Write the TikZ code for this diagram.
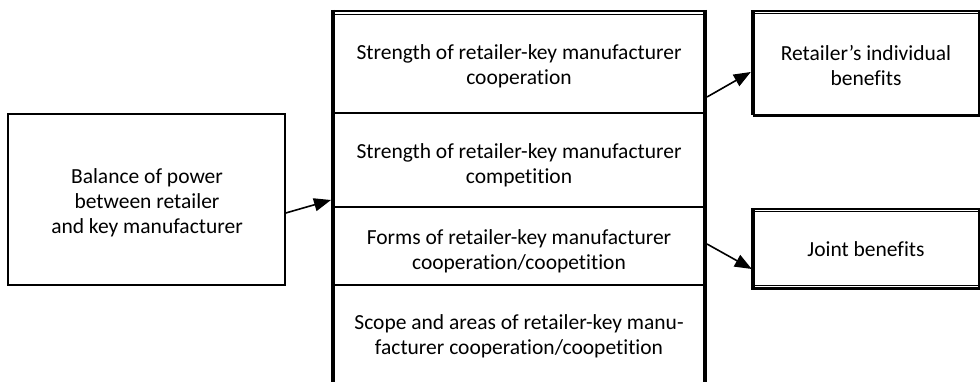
\documentclass[tikz,border=0pt]{standalone}
\usepackage{fontspec}
\setmainfont{Carlito}[RawFeature={-liga}]
\usetikzlibrary{arrows.meta}
\begin{document}
\begin{tikzpicture}[x=1pt,y=-1pt,
  txt/.style={align=center,inner sep=0pt,font=\fontsize{21.5}{25}\selectfont},
  arr/.style={line width=1.6pt,-{Triangle[length=17pt,width=13pt]}},
  thinbox/.style={draw,line width=1.5pt,inner sep=0pt}]
\useasboundingbox (0,0) rectangle (980,382);
% left box
\node[thinbox,minimum width=277pt,minimum height=171pt] (L) at (146.5,199.5) {};
\node[txt] (Lt) at (147,203) {Balance of power\\between retailer\\and key manufacturer};
% central frame
\draw[line width=1.5pt] (333,113) -- (705,113) (333,207) -- (705,207) (333,285) -- (705,285);
\draw[line width=4pt] (333,10) -- (333,382) (705,10) -- (705,382);
\draw[line width=2pt] (331,11) -- (707,11);
\draw[line width=1pt] (335,14.5) -- (703,14.5);
\node[txt] (c1) at (519,66) {Strength of retailer-key manufacturer\\cooperation};
\node[txt] (c2) at (519,165) {Strength of retailer-key manufacturer\\competition};
\node[txt] (c3) at (519,251) {Forms of retailer-key manufacturer\\cooperation/coopetition};
\node[txt] (c4) at (519,336) {Scope and areas of retailer-key manu-\\facturer cooperation/coopetition};
\coordinate (inL) at (331,200);
\coordinate (outR) at (707,97);
\coordinate (outJ) at (707,244);
% right boxes
\node[inner sep=0pt,minimum width=226pt,minimum height=104pt] (R) at (866,63) {};
\draw[line width=4pt] (R.north west) -- (R.south west);
\draw[line width=3pt] (R.south west) -- (R.south east) -- (R.north east);
\draw[line width=2pt] ([xshift=-2pt]R.north west) -- ([xshift=1.5pt]R.north east);
\draw[line width=1pt] ([yshift=-3pt]R.north west) -- ([yshift=-3pt]R.north east);
\node[txt] (Rt) at (866,66) {Retailer’s individual\\benefits};
\node[inner sep=0pt,minimum width=226pt,minimum height=79pt] (J) at (866,248.5) {};
\draw[line width=4pt] (J.north west) -- (J.south west);
\draw[line width=3pt] (J.north east) -- (J.south east);
\draw[line width=2pt] ([xshift=-2pt]J.north west) -- ([xshift=1.5pt]J.north east);
\draw[line width=1pt] ([yshift=-3pt]J.north west) -- ([yshift=-3pt]J.north east);
\draw[line width=2.5pt] ([xshift=-2pt,yshift=-0.5pt]J.south west) -- ([xshift=1.5pt,yshift=-0.5pt]J.south east);
\draw[line width=1pt] ([yshift=3pt]J.south west) -- ([yshift=3pt]J.south east);
\node[txt] (Jt) at (866,249) {Joint benefits};
% arrows
\draw[arr] ([yshift=-13.5pt]L.east) -- (inL);
\draw[arr] (outR) -- ([xshift=-2pt,yshift=-9pt]R.west);
\draw[arr] (outJ) -- ([xshift=-1pt,yshift=-20.5pt]J.west);
\end{tikzpicture}
\end{document}
